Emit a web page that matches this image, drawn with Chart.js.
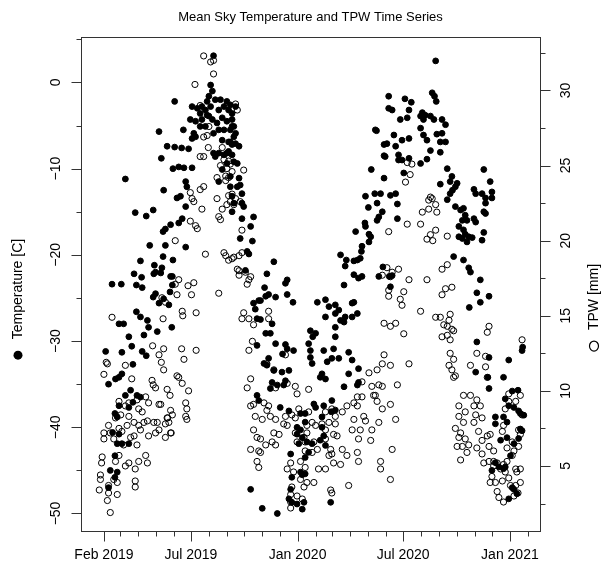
<!DOCTYPE html>
<html><head><meta charset="utf-8">
<script src="https://cdn.jsdelivr.net/npm/chart.js@4.4.1/dist/chart.umd.min.js"></script>
<style>html,body{margin:0;padding:0;background:#fff}#wrap{width:611px;height:565px}</style>
</head><body><div id="wrap"><canvas id="c" width="611" height="565"></canvas></div>
<script>
const chartTitle = 'Mean Sky Temperature and TPW Time Series';
const leftAxisTitle = 'Temperature [C]';
const rightAxisTitle = 'TPW [mm]';
// x values: days since 2019-01-01
const xLabelDays = [31, 181, 365, 547, 731];
const xLabels = ['Feb 2019', 'Jul 2019', 'Jan 2020', 'Jul 2020', 'Jan 2021'];
const xMinorDays = [59, 90, 120, 151, 212, 243, 273, 304, 334, 396, 425, 456, 486, 517, 578, 609, 639, 670, 700, 762];
const leftTicks = [0, -10, -20, -30, -40, -50];
const leftMinorTicks = [5, -5, -15, -25, -35, -45];
const rightTicks = [5, 10, 15, 20, 25, 30];
const rightMinorTicks = [2.5, 7.5, 12.5, 17.5, 22.5, 27.5, 32.5];

// [day, temperature C]
const temperature = [
[45,-23.4],[61,-23.4],[83,-22.2],[96,-22.6],[87,-23.5],[97,-23.8],[117,-22.2],[129,-22.1],[146,-22.5],[149,-23.5],[120,-24.5],[116,-24.9],[126,-25.6],[134,-25.1],[145,-24.3],[143,-25.8],[87,-26.6],[94,-27.2],[57,-28.0],[65,-28.0],[106,-27.6],[108,-28.4],[123,-28.9],[148,-28.4],[100,-29.3],[74,-29.5],[79,-30.6],[62,-31.3],[34,-31.2],[97,-31.2],[104,-31.7],[81,-32.7],[57,-34.2],[62,-33.8],[39,-35.0],[51,-34.4],[68,-36.3],[77,-35.7],[88,-36.3],[94,-36.5],[81,-37.1],[74,-37.7],[57,-37.5],[50,-38.4],[54,-38.8],[46,-40.6],[57,-40.8],[54,-41.9],[74,-41.9],[62,-41.9],[50,-43.3],[42,-45.0],[54,-45.2],[39,-47.0],[50,-45.8],
[68,-11.2],[126,-5.7],[140,-7.4],[153,-7.5],[165,-7.6],[177,-7.7],[130,-8.8],[153,-2.2],[168,-5.5],[180,-4.3],[150,-10.0],[160,-9.8],[169,-9.9],[183,-9.9],[134,-12.5],[157,-13.4],[163,-13.2],[172,-11.5],[174,-12.1],[85,-15.1],[104,-15.5],[116,-14.8],[133,-17.3],[137,-17.0],[146,-16.5],[160,-16.3],[166,-15.8],[172,-14.4],[110,-18.9],[137,-18.9],[172,-19.1],[94,-20.7],[118,-21.2],[133,-20.2],[150,-20.6],[120,-22.0],[131,-21.5],[149,-22.5],
[220,3.1],[215,-0.3],[218,-1.0],[212,-1.6],[209,-2.2],[223,-2.0],[232,-2.0],[238,-2.8],[246,-3.2],[252,-3.6],[200,-2.8],[192,-3.0],[183,-2.8],[206,-3.2],[197,-3.6],[212,-3.9],[200,-4.3],[189,-4.5],[206,-5.1],[197,-5.1],[226,-4.7],[235,-4.1],[243,-4.5],[252,-5.1],[229,-5.5],[220,-5.9],[235,-6.7],[246,-6.9],[252,-7.2],[186,-5.9],[183,-6.5],[189,-6.3],[220,-8.2],[229,-8.2],[238,-8.4],[223,-8.6],[246,-8.0],[229,-11.5],[249,-10.9],[252,-15.0],[235,-10.1],[243,-9.4],[215,-2.8],[229,-3.2],[209,-3.8],[218,-4.3],[238,-5.5],[255,-6.3],[255,-9.2],[249,-12.1],[255,-14.0],[252,-13.2],
[243,-2.2],[249,-2.6],[258,-2.8],[252,-4.3],[255,-5.1],[249,-5.5],[258,-5.9],[249,-6.9],[258,-7.1],[264,-7.4],[243,-8.2],[252,-8.4],[261,-9.4],[264,-11.1],[266,-11.9],[261,-12.1],[269,-12.9],[269,-14.0],[272,-14.4],[289,-15.6],[284,-16.7],[269,-15.8],[287,-18.4],[266,-18.1],[278,-19.6],[281,-19.9],[275,-21.8],[324,-20.8],
[501,-5.6],[514,-7.2],[492,-10.1],[482,-13.2],[498,-12.9],[487,-14.5],[502,-16.0],[481,-16.3],[482,-16.7],[465,-17.3],[488,-17.6],[491,-17.9],[488,-18.5],[476,-19.0],[475,-19.6],[473,-20.4],[468,-20.6],[462,-20.7],[439,-20.0],[449,-20.6],[447,-21.3],[476,-22.5],[470,-22.7],[512,-21.4],
[312,-22.2],[344,-23.3],[347,-22.9],[308,-23.8],[315,-24.6],[327,-24.9],[310,-24.8],[298,-25.3],[289,-25.6],[292,-26.3],[301,-25.3],[295,-27.4],[301,-27.5],[321,-28.0],[310,-29.1],[318,-29.1],[327,-30.3],[344,-30.4],[347,-30.9],[339,-31.5],[358,-31.1],[315,-32.0],[307,-32.6],[312,-32.8],[295,-30.5],[347,-24.6],[357,-25.5],[324,-33.4],[338,-33.6],[321,-34.8],[341,-35.1],[350,-33.4],[344,-34.6],[295,-36.3],[298,-36.9],[318,-35.5],[330,-35.1],[335,-37.7],[350,-38.1],[370,-38.4],[378,-38.4],[364,-40.0],[370,-40.3],[378,-39.4],[373,-41.2],[381,-41.7],[364,-40.8],[367,-41.9],[384,-42.9],[378,-43.5],[390,-41.9],[404,-41.5],[410,-41.0],[413,-42.1],[407,-40.0],[353,-43.1],[370,-45.2],[373,-45.5],[378,-45.4],[355,-45.8],[353,-47.2],[350,-48.3],[355,-48.7],[364,-48.9],[373,-49.5],[376,-48.7],[330,-50.0],[304,-49.4],[284,-47.2],[422,-48.7],[407,-38.8],[393,-37.3],[396,-37.7],[410,-37.5],[430,-38.0],[424,-36.9],[423,-38.2],[445,-35.3],[453,-33.8],[470,-34.8],[468,-35.1],[470,-33.2],[459,-32.2],
[399,-25.5],[413,-25.2],[430,-25.8],[436,-26.4],[439,-27.6],[459,-25.6],[462,-25.5],[468,-26.8],[459,-27.2],[447,-27.2],[445,-27.8],[430,-28.4],[419,-26.0],[413,-27.2],[430,-26.8],[387,-28.8],[391,-29.5],[396,-29.1],[384,-30.3],[430,-29.5],[427,-30.9],[410,-31.1],[387,-31.1],[387,-31.9],[390,-32.6],[407,-33.8],[413,-34.4],[404,-34.2],[424,-32.0],[436,-32.0],[416,-32.4],[453,-31.3],[462,-22.3],[445,-23.5],
[499,-5.5],[603,2.5],[522,-1.6],[550,-1.9],[561,-2.3],[557,-3.2],[522,-3.0],[528,-3.2],[597,-1.2],[601,-1.6],[604,-2.2],[580,-3.5],[585,-3.8],[594,-3.9],[600,-4.3],[577,-3.9],[582,-4.3],[614,-4.3],[620,-4.9],[542,-4.3],[554,-4.1],[577,-5.3],[582,-6.1],[588,-6.7],[605,-6.0],[614,-5.9],[611,-6.9],[620,-6.9],[557,-6.5],[545,-6.7],[531,-6.1],[519,-7.1],[534,-7.4],[594,-7.9],[611,-8.1],[514,-8.5],[516,-8.6],[539,-8.4],[539,-9.0],[545,-9.0],[557,-8.8],[588,-8.9],[577,-9.4],[548,-10.5],[514,-11.1],[623,-10.0],[631,-10.9],[628,-11.5],[640,-11.7],[637,-12.1],[632,-12.5],[628,-12.9],[611,-11.8],[623,-13.6],[686,-10.1],[697,-11.5],[700,-12.7],[700,-13.4],[669,-12.4],[672,-12.9],[683,-12.9],[689,-14.0],[686,-15.0],[689,-13.4],[534,-12.9],[525,-13.1],[508,-12.9],[502,-14.0],[511,-15.0],[505,-15.6],[537,-14.1],[537,-15.8],[637,-14.4],[646,-14.8],[651,-14.6],[654,-15.4],[649,-16.0],[657,-16.0],[643,-16.7],[651,-17.1],[654,-17.6],[660,-17.9],[649,-18.1],[657,-18.5],[666,-18.0],[643,-17.9],[669,-15.8],[672,-16.2],[689,-15.2],[686,-17.4],[683,-18.3],[634,-20.2],[651,-20.6],[660,-21.5],[663,-22.0],[680,-22.9],[505,-22.5],[523,-22.5],
[528,-22.4],[525,-23.7],[674,-24.4],[695,-24.8],[680,-25.5],[661,-26.1],[674,-30.1],[752,-31.1],[753,-30.7],[729,-32.2],[695,-31.9],[672,-33.6],[693,-34.2],[720,-34.2],[695,-35.5],[735,-35.8],[745,-35.7],[723,-36.7],[729,-37.5],[738,-37.7],[746,-38.1],[749,-38.4],[755,-38.6],[706,-38.8],[720,-38.8],[706,-39.6],[726,-39.4],[715,-41.5],[726,-41.2],[738,-41.9],[746,-41.3],[752,-40.4],[749,-40.2],[706,-44.1],[712,-44.6],[720,-44.8],[700,-45.0],[732,-43.3],[723,-44.6],[735,-47.0],[743,-47.7],[729,-48.3],[738,-47.2]
];

// [day, TPW mm]
const tpw = [
[160,17.4],[176,17.0],[186,17.2],[182,16.4],[154,17.1],[157,16.4],[131,16.2],[137,15.9],[166,15.3],[167,15.0],[190,15.2],[133,14.8],[45,14.9],[229,16.5],[115,13.0],[134,12.8],[126,12.4],[130,11.9],[134,11.4],[165,12.8],[169,12.1],[190,12.7],[68,11.7],[31,11.1],[35,11.9],[37,11.8],[79,10.8],[114,10.7],[120,10.2],[116,10.4],[157,11.0],[160,10.9],[166,10.5],[177,10.0],[140,10.1],[145,9.7],[129,9.1],[172,9.2],[174,8.8],[172,8.3],[146,8.7],[149,8.4],[141,8.2],[137,7.8],[146,7.2],[174,8.1],[137,6.9],
[57,9.3],[68,9.0],[74,9.2],[88,9.4],[103,9.6],[108,9.2],[126,9.1],[91,8.8],[97,8.6],[74,8.3],[60,8.4],[51,8.2],[39,7.7],[31,7.2],[42,7.2],[57,7.5],[62,7.3],[71,7.7],[83,7.9],[91,7.7],[100,7.9],[106,8.0],[117,7.9],[123,7.9],[126,7.4],[120,7.2],[108,7.0],[94,7.4],[83,7.0],[77,6.9],[88,6.4],[65,6.4],[48,6.8],[31,6.8],[140,8.2],[143,7.9],[147,7.2],[103,5.7],[106,5.2],[91,5.3],[85,4.8],[74,5.2],[68,5.0],[57,5.7],[51,5.3],[28,5.6],[27,5.2],[25,4.4],[25,4.1],[23,3.4],[39,3.2],[37,2.7],[42,1.9],[54,3.1],[54,3.9],[85,4.0],[85,3.6],[48,4.1],[39,3.7],
[203,32.3],[215,31.9],[220,32.0],[220,31.1],[188,30.4],[197,29.0],[203,26.9],[209,27.0],[212,27.6],[211,26.2],[203,25.6],[197,25.6],[235,26.2],[238,25.4],[232,25.0],[243,24.8],[241,24.3],[246,24.2],[226,24.2],[241,24.0],[246,23.0],[249,22.6],[243,22.4],[226,22.8],[235,22.1],[229,21.6],[232,21.4],[200,22.1],[180,23.2],[183,22.8],[186,22.6],[197,23.4],[203,23.6],[192,20.8],[180,21.3],[189,21.0],[154,20.0],[206,19.1],[238,19.2],[241,19.0],[246,18.7],[252,18.8],
[258,29.1],[261,28.7],[243,29.0],[246,25.3],[249,25.1],[252,24.6],[272,24.7],[252,23.1],[258,22.8],[255,22.4],[266,22.6],[269,20.7],[255,18.9],[264,19.0],[269,19.2],[261,18.1],[264,17.7],[284,17.6],
[284,9.0],[289,9.1],[307,9.2],[312,8.7],[292,8.3],[304,8.1],[289,7.4],[295,6.9],[301,6.8],[324,7.2],[333,7.1],[321,6.6],[327,6.4],[310,6.4],[284,6.1],[298,6.0],[301,5.9],[295,5.3],[298,4.9],[315,9.0],[318,8.3],[327,8.1],[344,8.3],[341,7.8],[347,7.7],[355,8.4],[361,8.2],[367,8.8],[384,8.6],[390,7.9],[381,7.7],[396,7.7],[407,7.8],[381,7.2],[376,6.9],[361,7.2],[364,6.6],[378,6.6],[393,6.6],[399,6.1],[390,5.9],[378,6.0],[370,5.3],[353,5.2],[347,4.8],[358,4.6],[378,4.9],[401,4.8],[370,4.1],[381,3.9],[393,3.9],[376,3.6],[355,3.6],[353,3.1],[364,3.0],[373,2.8],[353,2.2],[353,2.6],[424,8.8],[430,8.3],[413,8.6],[419,7.9],[430,7.8],[413,7.4],[427,7.1],[433,7.0],[413,6.8],[422,6.1],[442,6.1],[424,5.8],[450,5.7],[439,5.1],[427,5.2],[419,5.7],[413,4.8],[422,3.4],[424,3.2],[453,3.7],[442,8.6],[450,9.0],[462,9.2],[476,9.6],[468,9.0],[479,8.3],[462,8.1],[459,7.4],[473,7.4],[482,8.0],[493,7.4],[470,6.8],[491,6.7],[468,5.9],[470,5.3],[468,9.6],[476,10.6],[488,11.2],[496,9.7],[493,10.3],
[284,10.8],[278,10.2],[281,12.7],[287,13.3],[272,15.2],[281,14.8],[269,14.8],[289,14.4],[315,15.3],[315,14.8],[344,12.4],[312,11.8],[324,11.4],[347,10.5],[361,10.3],[327,10.2],[384,10.1],[364,9.8],[264,18.0],[275,17.9],[281,17.4],[278,17.1],
[554,25.2],[562,25.1],[559,24.4],[551,23.9],[594,22.9],[591,22.7],[580,21.9],[591,22.1],[605,21.9],[603,22.4],[597,22.8],[554,21.1],[577,21.1],[522,20.6],[594,20.4],[603,20.7],[588,20.1],[598,20.0],[623,20.3],[614,18.1],[623,18.4],[519,18.2],[539,18.1],[528,17.9],[511,17.7],[525,17.6],[557,17.4],[588,17.4],
[522,16.7],[522,16.3],[548,16.6],[542,16.1],[545,15.7],[614,16.4],[620,16.8],[631,16.9],[577,15.3],[603,14.9],[611,14.9],[628,15.1],[626,14.7],[617,14.4],[623,14.3],[631,14.1],[634,14.0],[614,13.6],[623,13.7],[628,13.4],[514,14.5],[525,14.3],[534,14.5],[548,13.8],[695,14.3],[692,13.9],[514,12.4],[525,11.7],[511,11.8],[557,11.8],[502,11.4],[628,12.5],[634,12.1],[626,11.7],[631,11.4],[637,11.0],[634,10.9],[663,11.7],[674,12.5],[689,12.3],[689,11.6],[692,10.9],[505,10.4],[511,10.3],[537,10.4],[499,9.7],[502,9.3],[525,9.1],[511,8.8],[534,8.1],[505,7.9],[528,6.1],[508,5.3],[508,4.8],[525,4.1],[752,13.4],
[651,9.7],[663,9.7],[674,9.4],[643,9.0],[669,9.0],[680,9.0],[654,8.6],[643,8.3],[651,7.9],[672,8.4],[683,8.2],[669,7.9],[637,7.5],[646,7.2],[654,6.8],[643,6.9],[660,6.4],[649,6.3],[657,5.9],[646,5.4],[640,6.3],[677,7.3],[692,7.0],[683,6.7],[674,6.2],[695,6.3],[703,6.0],[718,7.3],[729,9.8],[749,9.7],[752,8.4],[723,8.8],[697,7.1],[683,5.8],[686,5.2],[703,5.3],[709,5.2],[695,5.3],[720,5.1],[726,5.3],[735,5.7],[738,6.0],[746,6.3],[749,7.1],[726,6.2],[735,6.6],[741,4.8],[749,4.8],[743,4.6],[700,4.3],[697,3.9],[706,3.9],[715,4.8],[723,4.6],[729,4.2],[741,3.7],[732,3.7],[749,3.9],[709,3.3],[703,5.0],[718,4.0],[746,7.4],[720,7.7],[729,9.3],[741,9.3],[712,2.9],[720,2.6],[738,3.0],[745,3.2]
];

const FONT = '"Liberation Sans", Arial, Helvetica, sans-serif';
const minus = s => String(s).replace('-', '\u2212');

const rAxes = {
  id: 'rAxes',
  afterDraw(chart) {
    const { ctx, chartArea: a, scales: { x, y, y2 } } = chart;
    ctx.save();
    ctx.strokeStyle = '#333';
    ctx.fillStyle = '#000';
    ctx.lineWidth = 1;
    const L = Math.round(a.left) + 0.5, R = Math.round(a.right) + 0.5;
    const T = Math.round(a.top) + 0.5, B = Math.round(a.bottom) + 0.5;
    ctx.strokeRect(L, T, R - L, B - T);
    ctx.beginPath();
    xLabelDays.forEach(d => { const px = Math.round(x.getPixelForValue(d)) + 0.5; ctx.moveTo(px, B); ctx.lineTo(px, B + 10); });
    xMinorDays.forEach(d => { const px = Math.round(x.getPixelForValue(d)) + 0.5; ctx.moveTo(px, B); ctx.lineTo(px, B + 5); });
    leftTicks.forEach(v => { const py = Math.round(y.getPixelForValue(v)) + 0.5; ctx.moveTo(L, py); ctx.lineTo(L - 10, py); });
    leftMinorTicks.forEach(v => { const py = Math.round(y.getPixelForValue(v)) + 0.5; ctx.moveTo(L, py); ctx.lineTo(L - 5, py); });
    rightTicks.forEach(v => { const py = Math.round(y2.getPixelForValue(v)) + 0.5; ctx.moveTo(R, py); ctx.lineTo(R + 10, py); });
    rightMinorTicks.forEach(v => { const py = Math.round(y2.getPixelForValue(v)) + 0.5; ctx.moveTo(R, py); ctx.lineTo(R + 5, py); });
    ctx.stroke();

    ctx.font = '14px ' + FONT;
    ctx.textAlign = 'center';
    ctx.textBaseline = 'middle';
    xLabelDays.forEach((d, i) => ctx.fillText(xLabels[i], x.getPixelForValue(d), 555));
    leftTicks.forEach(v => {
      ctx.save(); ctx.translate(56, y.getPixelForValue(v)); ctx.rotate(-Math.PI / 2);
      ctx.fillText(minus(v), 0, 0); ctx.restore();
    });
    rightTicks.forEach(v => {
      ctx.save(); ctx.translate(566, y2.getPixelForValue(v)); ctx.rotate(-Math.PI / 2);
      ctx.fillText(String(v), 0, 0); ctx.restore();
    });
    // left axis title with filled-circle symbol
    ctx.save(); ctx.translate(18, 289); ctx.rotate(-Math.PI / 2);
    const lw = ctx.measureText(leftAxisTitle).width;
    ctx.fillText(leftAxisTitle, 0, 0);
    ctx.beginPath(); ctx.arc(-lw / 2 - 16, 0, 4.5, 0, Math.PI * 2); ctx.fill();
    ctx.restore();
    // right axis title with open-circle symbol
    ctx.save(); ctx.translate(594, 297); ctx.rotate(-Math.PI / 2);
    const rw = ctx.measureText(rightAxisTitle).width;
    ctx.fillText(rightAxisTitle, 0, 0);
    ctx.beginPath(); ctx.lineWidth = 1.2; ctx.strokeStyle = '#000';
    ctx.ellipse(-rw / 2 - 16, 0, 5, 4.5, 0, 0, Math.PI * 2); ctx.stroke();
    ctx.restore();
    // title
    ctx.font = '13px ' + FONT;
    ctx.fillText(chartTitle, (a.left + a.right) / 2, 17);
    ctx.restore();
  }
};

new Chart(document.getElementById('c'), {
  type: 'scatter',
  data: {
    datasets: [
      {
        label: 'Temperature', yAxisID: 'y',
        data: temperature.map(p => ({ x: p[0], y: p[1] })),
        pointStyle: 'circle', pointRadius: 2.9, pointHoverRadius: 2.9,
        backgroundColor: '#000', borderColor: '#000', borderWidth: 1
      },
      {
        label: 'TPW', yAxisID: 'y2',
        data: tpw.map(p => ({ x: p[0], y: p[1] })),
        pointStyle: 'circle', pointRadius: 3.1, pointHoverRadius: 3.1,
        backgroundColor: 'rgba(0,0,0,0)', borderColor: '#000', borderWidth: 1
      }
    ]
  },
  options: {
    responsive: false, animation: false, devicePixelRatio: 1,
    layout: { padding: { left: 81, right: 71, top: 37, bottom: 34 } },
    plugins: { legend: { display: false }, title: { display: false }, tooltip: { enabled: false } },
    scales: {
      x: { type: 'linear', min: -8.5, max: 782.9, display: false },
      y: { type: 'linear', min: -52.03, max: 5.27, display: false },
      y2: { type: 'linear', position: 'right', min: 0.67, max: 33.56, display: false }
    }
  },
  plugins: [rAxes]
});
</script>
</body></html>
